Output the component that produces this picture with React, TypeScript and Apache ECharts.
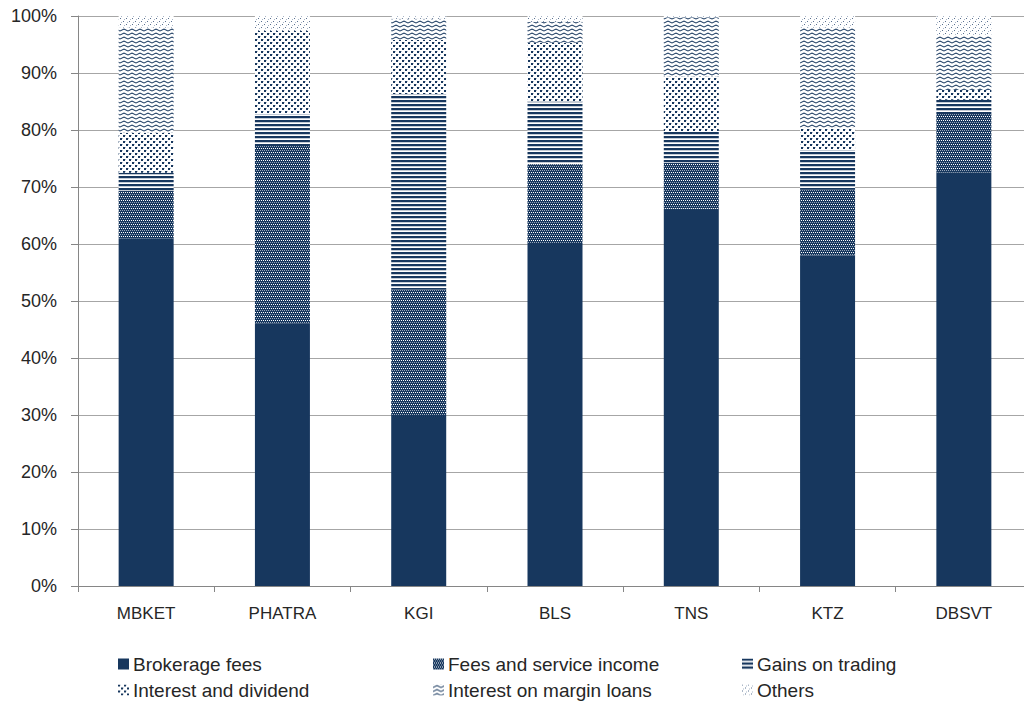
import React, { useEffect, useRef } from "react";
import * as echarts from "echarts";

const categories = ["MBKET", "PHATRA", "KGI", "BLS", "TNS", "KTZ", "DBSVT"];
const seriesNames = [
  "Brokerage fees",
  "Fees and service income",
  "Gains on trading",
  "Interest and dividend",
  "Interest on margin loans",
  "Others",
];
const brokerage = [61, 46, 30, 60, 66.2, 58, 72.6];
const feesService = [8.3, 31.2, 22, 14, 8, 11.6, 10.2];
const gainsTrading = [3.2, 5.6, 34.3, 11, 5.5, 6.9, 2.5];
const interestDividend = [7, 14.6, 9.5, 10.3, 9.7, 3.9, 1.7];
const marginLoans = [18.5, 0, 3.7, 3.7, 10.4, 17.6, 9.5];
const others = [2.0, 2.6, 0.5, 1.0, 0.2, 2.0, 3.5];
const yTicks = [0, 10, 20, 30, 40, 50, 60, 70, 80, 90, 100];

const NAVY = "#17375E";
const TEXT = "#262626";
const FONT = "Liberation Sans";

function tile(w: number, h: number, draw: (ctx: CanvasRenderingContext2D) => void) {
  const c = document.createElement("canvas");
  c.width = w;
  c.height = h;
  const ctx = c.getContext("2d") as CanvasRenderingContext2D;
  draw(ctx);
  return { image: c.toDataURL(), repeat: "repeat", imageWidth: w, imageHeight: h } as any;
}

function makePatterns() {
  const fees = tile(4, 4, (ctx) => {
    ctx.fillStyle = NAVY;
    ctx.fillRect(0, 0, 4, 4);
    ctx.fillStyle = "#ffffff";
    ctx.fillRect(1, 0, 1, 1);
    ctx.fillRect(3, 0, 1, 1);
    ctx.fillStyle = "#9aa8bb";
    ctx.fillRect(0, 2, 1, 1);
    ctx.fillRect(2, 2, 1, 1);
  });
  const gains = tile(4, 4, (ctx) => {
    ctx.fillStyle = "#ffffff";
    ctx.fillRect(0, 0, 4, 4);
    ctx.fillStyle = NAVY;
    ctx.fillRect(0, 0, 4, 2);
    ctx.fillStyle = "#8796ab";
    ctx.fillRect(0, 2, 4, 0.5);
  });
  const intDiv = tile(6, 6, (ctx) => {
    ctx.fillStyle = "#ffffff";
    ctx.fillRect(0, 0, 6, 6);
    ctx.fillStyle = NAVY;
    ctx.fillRect(0, 0, 2, 2);
    ctx.fillRect(3, 3, 2, 2);
    ctx.fillStyle = "#b8c2cf";
    ctx.fillRect(2, 0, 1, 1);
    ctx.fillRect(5, 3, 1, 1);
  });
  const margin = tile(8, 4, (ctx) => {
    ctx.fillStyle = "#ffffff";
    ctx.fillRect(0, 0, 8, 4);
    ctx.strokeStyle = NAVY;
    ctx.lineWidth = 1.1;
    ctx.beginPath();
    ctx.moveTo(-4, 1);
    ctx.lineTo(0, 3);
    ctx.lineTo(4, 1);
    ctx.lineTo(8, 3);
    ctx.lineTo(12, 1);
    ctx.stroke();
  });
  const oth = tile(6, 6, (ctx) => {
    ctx.fillStyle = "#ffffff";
    ctx.fillRect(0, 0, 6, 6);
    ctx.fillStyle = "#5a7090";
    ctx.fillRect(0, 0, 1, 1);
    ctx.fillRect(3, 3, 1, 1);
    ctx.fillStyle = "#a9b6c7";
    ctx.fillRect(1, 4, 1, 1);
    ctx.fillRect(4, 1, 1, 1);
  });
  return [NAVY, fees, gains, intDiv, margin, oth];
}

export default function App() {
  const ref = useRef<HTMLDivElement>(null);
  useEffect(() => {
    if (!ref.current) return;
    const chart = echarts.init(ref.current, undefined, { renderer: "svg" });
    const fills = makePatterns();
    const data = [brokerage, feesService, gainsTrading, interestDividend, marginLoans, others];
    const colLeft = [118, 433, 742, 118, 433, 742];
    const rowTop = [653, 653, 653, 679, 679, 679];
    const legends = seriesNames.map((name, i) => ({
      data: [name],
      orient: "horizontal",
      left: colLeft[i],
      top: rowTop[i],
      padding: 0,
      itemGap: 0,
      itemWidth: 11,
      itemHeight: 11,
      icon: "rect",
      textStyle: { fontFamily: FONT, fontSize: 19, color: TEXT, padding: [0, 0, 0, -1], lineHeight: 22 },
      selectedMode: false,
    }));
    chart.setOption({
      animation: false,
      backgroundColor: "#ffffff",
      textStyle: { fontFamily: FONT },
      grid: { left: 78, width: 954, top: 16, height: 570, outerBoundsMode: "none", containLabel: false },
      legend: legends,
      xAxis: {
        type: "category",
        data: categories,
        axisLine: { lineStyle: { color: "#868686", width: 1 } },
        axisTick: { show: true, length: 6, lineStyle: { color: "#868686" } },
        axisLabel: { fontFamily: FONT, fontSize: 17, color: TEXT, margin: 19 },
      },
      yAxis: {
        type: "value",
        min: yTicks[0],
        max: yTicks[yTicks.length - 1],
        interval: 10,
        axisLine: { show: true, lineStyle: { color: "#868686", width: 1 } },
        axisTick: { show: true, length: 7, lineStyle: { color: "#868686" } },
        axisLabel: { fontFamily: FONT, fontSize: 18, color: TEXT, margin: 21, formatter: "{value}%" },
        splitLine: { show: true, lineStyle: { color: "#a6a6a6", width: 1 } },
      },
      series: seriesNames.map((name, i) => ({
        name,
        type: "bar",
        stack: "total",
        barWidth: 55,
        data: data[i],
        itemStyle: { color: fills[i] },
      })),
    });
    return () => chart.dispose();
  }, []);
  return (
    <div
      ref={ref}
      style={{ position: "fixed", left: 0, top: 0, width: 1024, height: 704, overflow: "hidden" }}
    />
  );
}
